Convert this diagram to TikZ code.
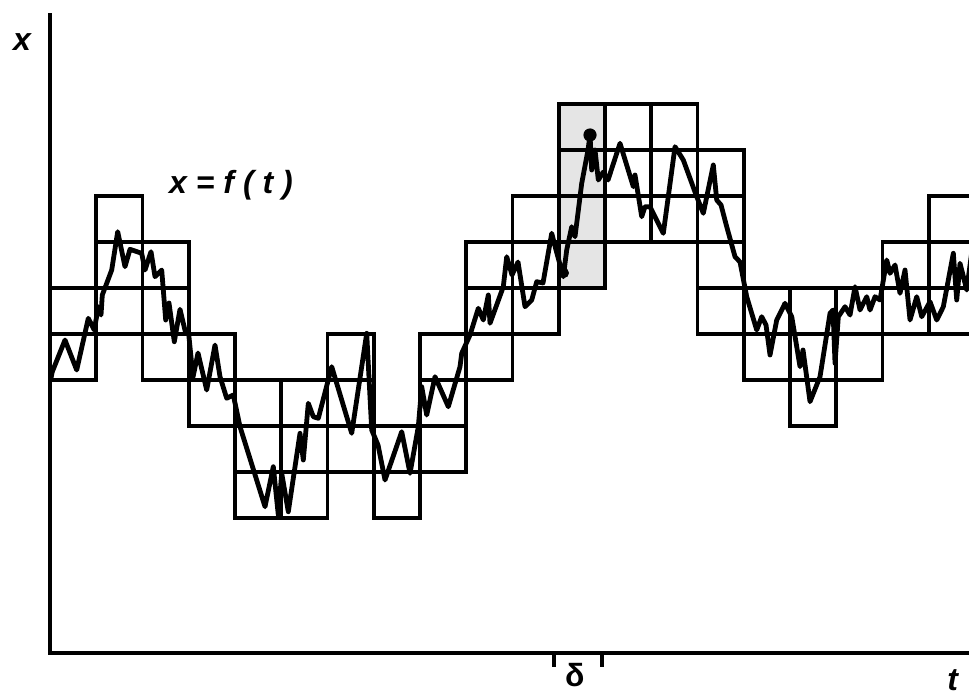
\documentclass[tikz,border=0pt]{standalone}
\usepackage{fontspec}
\setsansfont{Liberation Sans}
\usetikzlibrary{positioning}
\definecolor{dotgray}{gray}{0.9}
\newcommand{\rowbase}{2.935}
\newcommand{\boxcol}[3]{%
  \foreach \k in {#2,...,#3}{\draw[cellbox] (#1,{\k+\rowbase}) rectangle ++(1,1);}
}

\begin{document}
\begin{tikzpicture}[x=23.125pt,y=23pt,
    cellbox/.style={line width=1.8pt,line join=miter},
    axisline/.style={line width=1.8pt},
    lbl/.style={font=\fontsize{16}{18}\selectfont\sffamily\bfseries\itshape,inner sep=0pt},
    walk/.style={line width=2.4pt,line join=round,line cap=round}]
    \useasboundingbox (-1.081,-0.913) rectangle (19.870,14.196);
    \clip (-1.081,-0.913) rectangle (19.870,14.196);
    \fill[dotgray] (11,{5+\rowbase}) rectangle (12,{9+\rowbase});
    \boxcol{0}{3}{4}
    \boxcol{1}{4}{6}
    \boxcol{2}{3}{5}
    \boxcol{3}{2}{3}
    \boxcol{4}{0}{2}
    \boxcol{5}{0}{2}
    \boxcol{6}{1}{3}
    \boxcol{7}{0}{1}
    \boxcol{8}{1}{3}
    \boxcol{9}{3}{5}
    \boxcol{10}{4}{6}
    \boxcol{11}{5}{8}
    \boxcol{12}{6}{8}
    \boxcol{13}{6}{8}
    \boxcol{14}{4}{7}
    \boxcol{15}{3}{4}
    \boxcol{16}{2}{4}
    \boxcol{17}{3}{4}
    \boxcol{18}{4}{5}
    \boxcol{19}{4}{6}
    \coordinate (orig) at (0,0);
    \coordinate (xtop) at (0,13.91);
    \coordinate (tend) at (19.9,0);
    \draw[axisline] (xtop) -- (orig) -- (tend);
    \coordinate (dl) at (10.9,0);
    \coordinate (dr) at (11.93,0);
    \coordinate (dmid) at (11.35,0);
    \draw[axisline] (dl) -- ++(0,-0.3);
    \draw[axisline] (dr) -- ++(0,-0.3);
    \node[lbl,font=\fontsize{16}{18}\selectfont\sffamily\bfseries,below=5pt of dmid] (delta) {δ};
    \node[lbl] (tlbl) at (19.52,-0.58) {t};
    \node[lbl] (xlbl) at (-0.605,13.28) {x};
    \node[lbl] (fnlbl) at (3.914,10.17) {x = f ( t )};
    \begin{scope}[shift={(-1.081,14.196)},x=0.5pt,y=-0.5pt]
      \draw[walk] plot coordinates {(51,378) (52.3,371.7) (65,340) (76.7,370) (88.3,318.3)
        (94.3,330) (98.3,306.7) (101,315) (102.3,295) (111.7,270) (117.7,231.7)
        (125,266.7) (130,249.3) (141.7,253.3) (145,270) (151,251.7) (155,276.7)
        (161.7,270) (165.7,320) (169,303) (174.3,341.7) (180,309.3) (185.7,333.3)
        (188.3,330) (193,377) (198,353) (206.7,390) (215,345) (220,376.7)
        (226.7,398.3) (233.3,395) (240,426.7) (265,506.7) (273.3,466.7) (278.3,515)
        (281.7,473.3) (288.3,511.7) (300,433.3) (303.3,460) (308.3,403.3)
        (313.3,416.7) (318.3,418.3) (331.7,366.7) (351.7,433.3) (366.7,333.3)
        (371.7,430) (378,445) (385,480) (401.7,431.7) (410,473.3) (418.3,426.7)
        (421.7,386.7) (426.7,415) (435,376.7) (448.3,406.7) (460,366.7)
        (461.7,353.3) (470,335) (478.3,308.3) (483.3,320) (488.3,295) (490,323.3)
        (503.3,286.7) (506.7,256.7) (512,275) (518,262) (525,306.7) (531.7,300)
        (536.7,281.7) (543,283) (551.7,233.3) (556,250) (563.3,276.7) (566.7,250)
        (571.7,226.7) (575,236.7) (581.7,183.3) (588,150) (590,135) (591.7,170)
        (595,150) (598.3,180) (603.3,172) (608,180) (620,143.3) (633.3,186.7)
        (635,175) (641.7,216.7) (645,206.7) (650,206.7) (663.3,233.3) (675,146.7)
        (683.3,160) (696.7,196.7) (703.3,213.3) (713.3,165) (716.7,200) (721,205)
        (726.7,226.7) (735,256.7) (740,262) (746.7,296.7) (756.7,330) (761.7,316.7)
        (766,325) (770,355) (776.7,320) (785,303.3) (791.7,316.7) (796.7,346.7)
        (800,366.7) (803,350) (810,401.7) (820,376.7) (830,313.3) (833,310)
        (835,363.3) (838.3,316.7) (845,306.7) (850,315) (855,286.7) (860,310)
        (866.7,296.7) (870,310) (875,296.7) (880,300) (886.7,260) (890,273.3)
        (895,265) (900,293.3) (905,270) (910,320) (916.7,296.7) (921.7,316.7)
        (930,301.7) (936.7,320) (943.3,306.7) (953.3,253.3) (956.7,300)
        (960,263.3) (966.7,290) (972,250)};
      \fill (590,135) circle (3.3pt);
      \fill (564,273) circle (2.5pt);
    \end{scope}
\end{tikzpicture}
\end{document}
